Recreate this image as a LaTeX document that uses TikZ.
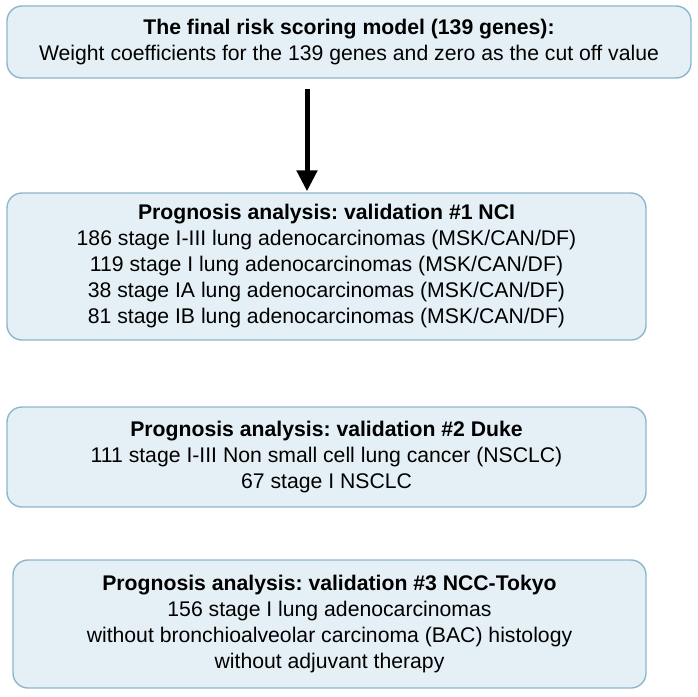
\documentclass[tikz,border=0pt]{standalone}
\usepackage{fontspec}
\setmainfont{Liberation Sans}
\usepackage{xcolor}
\usepackage{tikz}
\usetikzlibrary{arrows.meta,positioning,calc}
\definecolor{boxfill}{RGB}{229,240,246}
\definecolor{boxline}{RGB}{140,183,206}
\frenchspacing
\tikzset{
  stagebox/.style={rectangle, draw=boxline, line width=1.4pt, fill=boxfill,
                   rounded corners=15pt, align=center, inner sep=0pt,
                   font=\fontsize{21.2}{26}\selectfont},
  fl/.style={-{Triangle[length=21pt,width=20pt]}, line width=5pt},
}

\begin{document}
\begin{tikzpicture}[x=1pt,y=1pt]
\useasboundingbox (0,0) rectangle (698,-696);
\node[stagebox, minimum width=684pt, minimum height=72pt] (model) at (349,-42)
  {\textbf{The final risk scoring model (139 genes):}\\
   Weight coefficients for the 139 genes and zero as the cut off value};
\node[stagebox, minimum width=639pt, minimum height=147pt] (nci) at (326.5,-266.5)
  {\textbf{Prognosis analysis: validation \#1 NCI}\\
   186 stage I-III lung adenocarcinomas (MSK/CAN/DF)\\
   119 stage I lung adenocarcinomas (MSK/CAN/DF)\\
   38 stage IA lung adenocarcinomas (MSK/CAN/DF)\\
   81 stage IB lung adenocarcinomas (MSK/CAN/DF)};
\node[stagebox, minimum width=639pt, minimum height=100pt] (duke) at (326.5,-457)
  {\textbf{Prognosis analysis: validation \#2 Duke}\\
   111 stage I-III Non small cell lung cancer (NSCLC)\\
   67 stage I NSCLC};
\node[stagebox, minimum width=633pt, minimum height=128pt] (tokyo) at (329.5,-624)
  {\textbf{Prognosis analysis: validation \#3 NCC-Tokyo}\\
   156 stage I lung adenocarcinomas\\
   without bronchioalveolar carcinoma (BAC) histology\\
   without adjuvant therapy};
\draw[fl] ([xshift=-42pt,yshift=-10pt]model.south) -- ([xshift=-19.5pt,yshift=1pt]nci.north);
\end{tikzpicture}
\end{document}
